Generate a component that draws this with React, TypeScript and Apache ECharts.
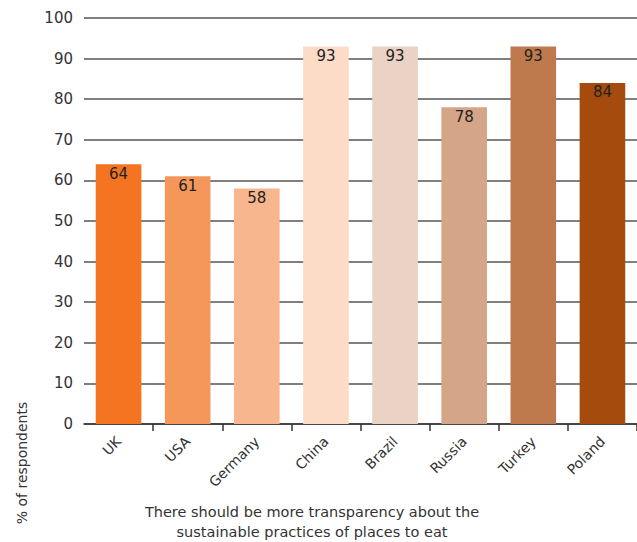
import React, { useEffect, useRef } from "react";
import * as echarts from "echarts";

const countries = ["UK", "USA", "Germany", "China", "Brazil", "Russia", "Turkey", "Poland"];
const values = [64, 61, 58, 93, 93, 78, 93, 84];
const barColors = ["#F47421", "#F5975A", "#F7B68D", "#FCDBC7", "#EAD2C4", "#D4A587", "#BE7A4C", "#A64B0E"];
const yTicks = { min: 0, max: 100, interval: 10 };
const yAxisTitle = "% of respondents";
const captionLines = [
  "There should be more transparency about the",
  "sustainable practices of places to eat",
];

const FONT = "'DejaVu Sans', sans-serif";

export default function App() {
  const ref = useRef<HTMLDivElement>(null);

  useEffect(() => {
    if (!ref.current) return;
    const chart = echarts.init(ref.current, null, { renderer: "svg" });
    chart.setOption({
      animation: false,
      textStyle: { fontFamily: FONT },
      grid: { left: 84, right: 0, top: 18, bottom: 118, containLabel: false },
      xAxis: {
        type: "category",
        data: countries,
        axisLine: { lineStyle: { color: "#333", width: 1.5 } },
        axisTick: {
          show: true,
          length: 7,
          lineStyle: { color: "#333", width: 1.5 },
          interval: (index: number) => index > 0,
        },
        axisLabel: {
          rotate: 45,
          margin: 15,
          fontSize: 14,
          color: "#333",
          fontFamily: FONT,
        },
      },
      yAxis: {
        type: "value",
        min: yTicks.min,
        max: yTicks.max,
        interval: yTicks.interval,
        axisLine: { show: false },
        axisTick: { show: false },
        axisLabel: { fontSize: 15, color: "#333", margin: 11, fontFamily: FONT },
        splitLine: { lineStyle: { color: "#555", width: 1.5 } },
      },
      series: [
        {
          type: "bar",
          data: values.map((v, i) => ({ value: v, itemStyle: { color: barColors[i] } })),
          barCategoryGap: "34%",
          label: {
            show: true,
            position: "insideTop",
            distance: 2,
            fontSize: 15,
            color: "#222",
            fontFamily: FONT,
          },
        },
      ],
      graphic: [
        {
          type: "text",
          x: 22,
          y: 463,
          rotation: Math.PI / 2,
          style: {
            text: yAxisTitle,
            fontSize: 14,
            fill: "#333",
            fontFamily: FONT,
            align: "center",
            verticalAlign: "middle",
          },
        },
        {
          type: "text",
          x: 312,
          y: 512,
          style: {
            text: captionLines[0],
            fontSize: 14.5,
            fill: "#333",
            fontFamily: FONT,
            align: "center",
            verticalAlign: "middle",
          },
        },
        {
          type: "text",
          x: 312,
          y: 532,
          style: {
            text: captionLines[1],
            fontSize: 14.5,
            fill: "#333",
            fontFamily: FONT,
            align: "center",
            verticalAlign: "middle",
          },
        },
      ],
    });
    return () => chart.dispose();
  }, []);

  return <div ref={ref} style={{ width: 637, height: 542, position: "absolute", left: 0, top: 0 }} />;
}
